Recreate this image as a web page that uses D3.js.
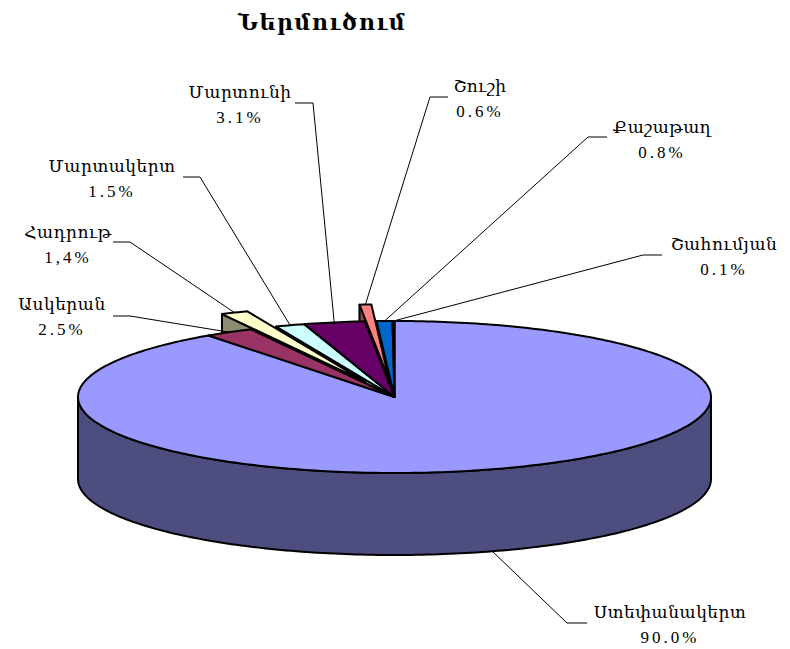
<!DOCTYPE html>
<html lang="hy">
<head>
<meta charset="UTF-8">
<title>Ներմուծում</title>
<script src="https://cdnjs.cloudflare.com/ajax/libs/d3/7.8.5/d3.min.js"></script>
<style>
  body { margin: 0; background: #fff; }
  text { font-family: "Liberation Serif", "DejaVu Serif", serif; fill: #000; }
  .lbl { font-size: 17px; }
  .lbl .nm { letter-spacing: 0.5px; }
  .lbl .pc { letter-spacing: 3px; }
  .title { font-size: 22px; font-weight: bold; letter-spacing: 1.5px; }
  .face { stroke: #000; stroke-width: 2px; stroke-linejoin: round; }
  .leader { fill: none; stroke: #000; stroke-width: 1px; }
</style>
</head>
<body>
<script>
var regions = ["Ստեփանակերտ", "Ասկերան", "Հադրութ", "Մարտակերտ", "Մարտունի", "Շուշի", "Քաշաթաղ", "Շահումյան"];
var shares = [90.0, 2.5, 1.4, 1.5, 3.1, 0.6, 0.8, 0.1];
var shareLabels = ["90.0%", "2.5%", "1,4%", "1.5%", "3.1%", "0.6%", "0.8%", "0.1%"];
var colors = ["#9999ff", "#993366", "#ffffcc", "#ccffff", "#660066", "#ff8080", "#0066cc", "#ccccff"];
var pulledOut = ["Հադրութ", "Շուշի"];

var width = 790, height = 649;
var cx = 394.5, cy = 397, rx = 316.5, ry = 76, depth = 82, pull = 0.22;

// where each label sits: text centre x, first baseline y, leader elbow x, end of flat bit
var labelSpots = [
  {x: 670, y: 618, ex: 567, hx: 587, hy: 623},
  {x: 62,  y: 310, ex: 130, hx: 113, hy: 316},
  {x: 68,  y: 238, ex: 130, hx: 113, hy: 242},
  {x: 112, y: 172, ex: 200, hx: 183, hy: 177},
  {x: 240, y: 98,  ex: 313, hx: 295, hy: 103},
  {x: 480, y: 92,  ex: 430, hx: 448, hy: 97},
  {x: 662, y: 133, ex: 588, hx: 607, hy: 137},
  {x: 724, y: 250, ex: 643, hx: 662, hy: 255}
];

var color = d3.scaleOrdinal().domain(regions).range(colors);

var pie = d3.pie().sort(null).value(function (d, i) { return shares[i]; });
var slices = pie(regions);

var svg = d3.select("body").append("svg")
    .attr("width", width)
    .attr("height", height);

function pt(a, r, z, o) {
  return [cx + o[0] + r * rx * Math.sin(a), cy + o[1] - r * ry * Math.cos(a) + z];
}

function arcPts(a0, a1, z, o) {
  var n = Math.max(2, Math.ceil((a1 - a0) / (Math.PI / 180)));
  return d3.range(n + 1).map(function (i) { return pt(a0 + (a1 - a0) * i / n, 1, z, o); });
}

function shade(c, k) {
  var r = d3.rgb(c);
  return d3.rgb(r.r * k, r.g * k, r.b * k);
}

var line = d3.line();
function closed(pts) { return line(pts) + "Z"; }

slices.forEach(function (s) {
  s.mid = (s.startAngle + s.endAngle) / 2;
  s.off = pulledOut.indexOf(s.data) >= 0
    ? [pull * rx * Math.sin(s.mid), -pull * ry * Math.cos(s.mid)]
    : [0, 0];
});

// side walls first, back to front
var walls = [];
slices.forEach(function (s) {
  var outer = shade(color(s.data), 0.5), inner = shade(color(s.data), 0.55);
  var a0 = Math.max(s.startAngle, Math.PI / 2), a1 = Math.min(s.endAngle, 3 * Math.PI / 2);
  if (a1 > a0) {
    var top = arcPts(a0, a1, 0, s.off), bot = arcPts(a0, a1, depth, s.off).reverse();
    walls.push({d: closed(top.concat(bot)), fill: outer, key: cy + s.off[1] + ry});
  }
  var c0 = pt(0, 0, 0, s.off), c1 = pt(0, 0, depth, s.off);
  if (Math.sin(s.startAngle) < -1e-6) {
    walls.push({
      d: closed([c0, pt(s.startAngle, 1, 0, s.off), pt(s.startAngle, 1, depth, s.off), c1]),
      fill: inner, key: cy + s.off[1] - 0.5 * ry * Math.cos(s.startAngle)
    });
  }
  if (Math.sin(s.endAngle) > 1e-6) {
    walls.push({
      d: closed([c0, pt(s.endAngle, 1, 0, s.off), pt(s.endAngle, 1, depth, s.off), c1]),
      fill: inner, key: cy + s.off[1] - 0.5 * ry * Math.cos(s.endAngle)
    });
  }
});
walls.sort(function (a, b) { return a.key - b.key; });

svg.append("g").selectAll("path")
  .data(walls)
  .join("path")
    .attr("class", "face")
    .attr("d", function (d) { return d.d; })
    .attr("fill", function (d) { return d.fill; });

// top faces
svg.append("g").selectAll("path")
  .data(slices)
  .join("path")
    .attr("class", "face")
    .attr("fill", function (d) { return color(d.data); })
    .attr("d", function (d) {
      return closed([pt(0, 0, 0, d.off)].concat(arcPts(d.startAngle, d.endAngle, 0, d.off)));
    });

// leader lines
svg.append("g").selectAll("path")
  .data(slices)
  .join("path")
    .attr("class", "leader")
    .attr("d", function (d, i) {
      var sp = labelSpots[i];
      var front = Math.cos(d.mid) < 0 ? depth : 0;
      return line([pt(d.mid, 1, front, d.off), [sp.ex, sp.hy], [sp.hx, sp.hy]]);
    });

var labels = svg.append("g").selectAll("text")
  .data(slices)
  .join("text")
    .attr("class", "lbl")
    .attr("text-anchor", "middle");
labels.append("tspan")
    .attr("class", "nm")
    .attr("x", function (d, i) { return labelSpots[i].x; })
    .attr("y", function (d, i) { return labelSpots[i].y; })
    .text(function (d) { return d.data; });
labels.append("tspan")
    .attr("class", "pc")
    .attr("x", function (d, i) { return labelSpots[i].x; })
    .attr("y", function (d, i) { return labelSpots[i].y + 25; })
    .text(function (d, i) { return shareLabels[i]; });

svg.append("text")
    .attr("class", "title")
    .attr("x", 322)
    .attr("y", 30)
    .attr("text-anchor", "middle")
    .text("Ներմուծում");
</script>
</body>
</html>
